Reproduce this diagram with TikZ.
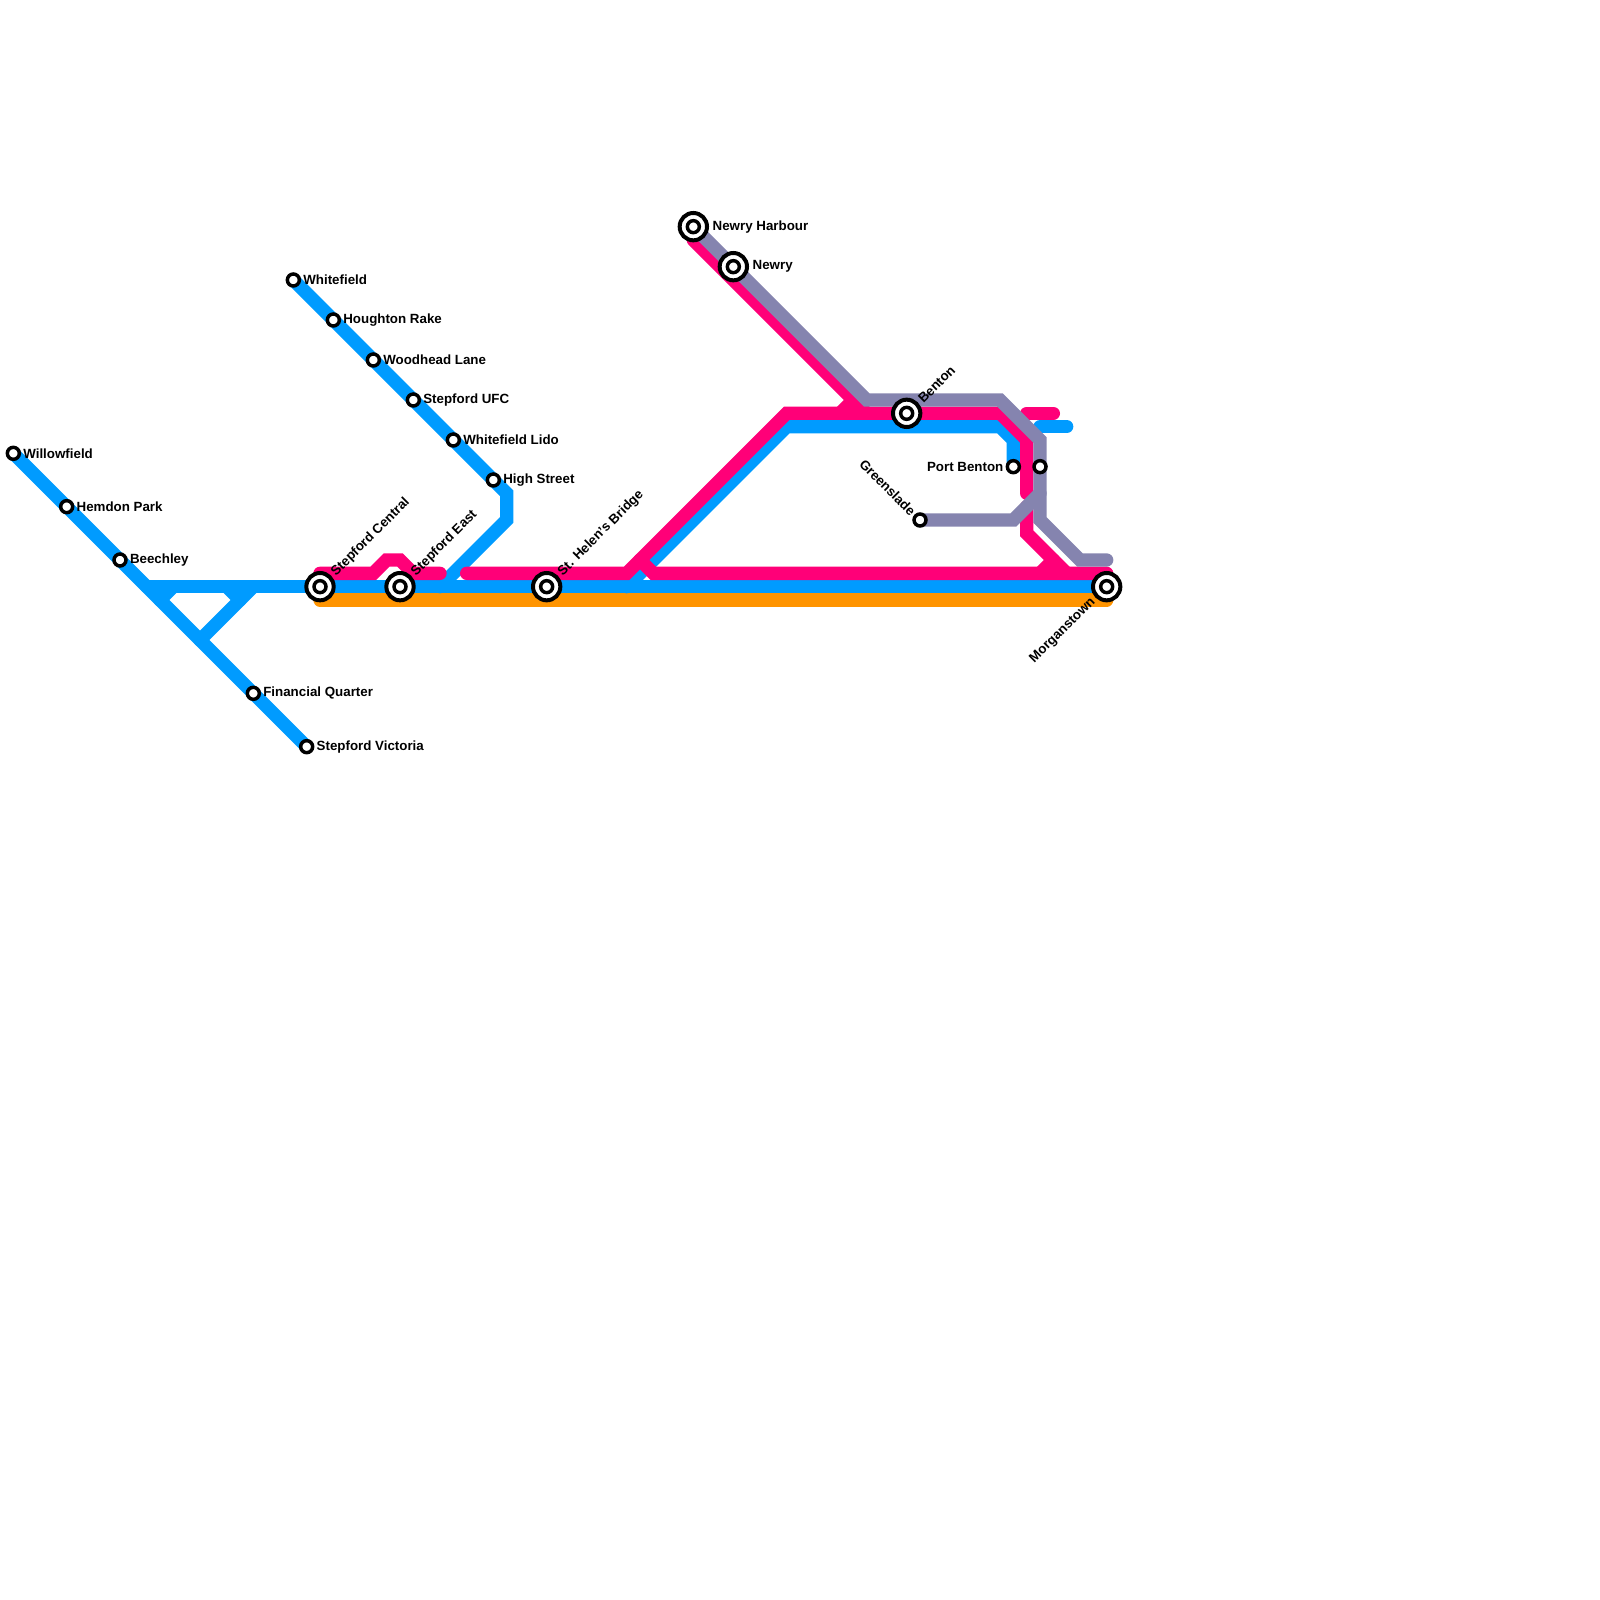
\documentclass[tikz,border=0pt]{standalone}
\usepackage{fontspec}
\setmainfont{Liberation Sans}
\usepackage{tikz}
\usetikzlibrary{positioning}
\usetikzlibrary{backgrounds}
\definecolor{lineblue}{HTML}{009BFF}
\definecolor{linepink}{HTML}{FF0078}
\definecolor{lineorange}{HTML}{FF9400}
\definecolor{linegray}{HTML}{8584AF}

\begin{document}
\begin{tikzpicture}[x=0.2cm,y=-0.2cm]
% Styles:
\tikzset{stn/.style={circle, draw=black, fill=white, line width=0.052cm, minimum size=0.18cm, inner sep=0pt, outer sep=0pt}}
\tikzset{hub/.style={circle, draw=black, fill=white, line width=0.06cm, minimum size=0.41cm, inner sep=0pt, outer sep=0pt}}
\tikzset{lbl/.style={font=\bfseries\fontsize{5.69pt}{7pt}\selectfont, inner sep=0pt, outer sep=0pt}}
\tikzset{rail/.style={line width=0.2cm, line cap=round, line join=miter}}
\tikzset{node distance = 0.06cm}
\useasboundingbox (0,0) rectangle (120,120);

% Small stations:
\node[stn] (wil) at (1,34) {};
\node[stn] (hem) at (5,38) {};
\node[stn] (bee) at (9,42) {};
\node[stn] (fin) at (19,52) {};
\node[stn] (vic) at (23,56) {};
\node[stn] (whi) at (22,21) {};
\node[stn] (hou) at (25,24) {};
\node[stn] (woo) at (28,27) {};
\node[stn] (ufc) at (31,30) {};
\node[stn] (lid) at (34,33) {};
\node[stn] (hig) at (37,36) {};
\node[stn] (por) at (76,35) {};
\node[stn] (unn) at (78,35) {};
\node[stn] (gre) at (69,39) {};

% Interchange stations:
\node[hub] (cen) at (24,44) {};
\node[hub] (eas) at (30,44) {};
\node[hub] (hel) at (41,44) {};
\node[hub] (har) at (52,17) {};
\node[hub] (new) at (55,20) {};
\node[hub] (ben) at (68,31) {};
\node[hub] (mor) at (83,44) {};
\node[stn] at (cen.center) {};
\node[stn] at (eas.center) {};
\node[stn] at (hel.center) {};
\node[stn] at (har.center) {};
\node[stn] at (new.center) {};
\node[stn] at (ben.center) {};
\node[stn] at (mor.center) {};

% Labels:
\node[lbl, right = of wil] {Willowfield};
\node[lbl, right = of hem] {Hemdon Park};
\node[lbl, right = of bee] {Beechley};
\node[lbl, right = of fin] {Financial Quarter};
\node[lbl, right = of vic] {Stepford Victoria};
\node[lbl, right = of whi] {Whitefield};
\node[lbl, right = of hou] {Houghton Rake};
\node[lbl, right = of woo] {Woodhead Lane};
\node[lbl, right = of ufc] {Stepford UFC};
\node[lbl, right = of lid] {Whitefield Lido};
\node[lbl, right = of hig] {High Street};
\node[lbl, right = 0.085cm of har] {Newry Harbour};
\node[lbl, right = 0.085cm of new] {Newry};
\node[lbl, left = of por] {Port Benton};
\node[lbl, rotate=45, anchor=west] at ([shift={(0.205cm,0.19cm)}]cen.center) {Stepford Central};
\node[lbl, rotate=45, anchor=west] at ([shift={(0.205cm,0.19cm)}]eas.center) {Stepford East};
\node[lbl, rotate=45, anchor=west] at ([shift={(0.205cm,0.19cm)}]hel.center) {St. Helen's Bridge};
\node[lbl, rotate=45, anchor=west] at ([shift={(0.205cm,0.19cm)}]ben.center) {Benton};
\node[lbl, rotate=45, anchor=east] at ([shift={(-0.2cm,-0.2cm)}]mor.center) {Morganstown};
\node[lbl, rotate=-45, anchor=east] at ([shift={(-0.1cm,0.1cm)}]gre.center) {Greenslade};

% Bends and junctions:
\coordinate (jtop) at (11,44);
\coordinate (jlow) at (15,48);
\coordinate (jmid) at (19,44);
\coordinate (jstuba) at (12,45);
\coordinate (jstubb) at (13,44);
\coordinate (jstubc) at (17,44);
\coordinate (jstubd) at (18,45);
\coordinate (bup) at (38,37);
\coordinate (bdn) at (38,39);
\coordinate (bjoin) at (33,44);
\coordinate (bfork) at (47,44);
\coordinate (bnw) at (59,32);
\coordinate (bne) at (75,32);
\coordinate (bpt) at (76,33);
\coordinate (bsa) at (78,32);
\coordinate (bsb) at (80,32);
\coordinate (pa) at (28,43);
\coordinate (pb) at (29,42);
\coordinate (pc) at (30,42);
\coordinate (pd) at (31,43);
\coordinate (pe) at (33,43);
\coordinate (pst) at (24,43);
\coordinate (pf) at (35,43);
\coordinate (pg) at (47,43);
\coordinate (pnw) at (59,31);
\coordinate (pne) at (75,31);
\coordinate (ph) at (77,33);
\coordinate (pi) at (77,37);
\coordinate (pj) at (77,38);
\coordinate (pk) at (77,40);
\coordinate (pl) at (80,43);
\coordinate (pm) at (48,42);
\coordinate (pn) at (49,43);
\coordinate (po) at (83,43);
\coordinate (pq) at (78,43);
\coordinate (pr) at (79,42);
\coordinate (ps) at (52,18);
\coordinate (pt) at (65,31);
\coordinate (pu) at (63,31);
\coordinate (pv) at (64,30);
\coordinate (pw) at (77,31);
\coordinate (px) at (79,31);
\coordinate (ga) at (65,30);
\coordinate (gb) at (75,30);
\coordinate (gc) at (78,33);
\coordinate (gd) at (78,39);
\coordinate (ge) at (81,42);
\coordinate (gf) at (83,42);
\coordinate (gg) at (76,39);
\coordinate (gh) at (78,37);
\coordinate (ora) at (24,45);
\coordinate (orb) at (83,45);

% Lines under the stations:
\begin{pgfonlayer}{background}
\draw[rail, lineorange] (ora) -- (orb);
\draw[rail, lineblue] (wil.center) -- (vic.center);
\draw[rail, lineblue] (jtop) -- (cen.center) -- (mor.center);
\draw[rail, lineblue] (jlow) -- (jmid);
\draw[rail, lineblue] (jstuba) -- (jstubb);
\draw[rail, lineblue] (jstubc) -- (jstubd);
\draw[rail, lineblue] (whi.center) -- (bup) -- (bdn) -- (bjoin);
\draw[rail, lineblue] (bfork) -- (bnw) -- (bne) -- (bpt) -- (por.center);
\draw[rail, lineblue] (bsa) -- (bsb);
\draw[rail, linepink] (pst) -- (pa) -- (pb) -- (pc) -- (pd) -- (pe);
\draw[rail, linepink] (pf) -- (pg) -- (pnw) -- (pne) -- (ph) -- (pi);
\draw[rail, linepink] (pj) -- (pk) -- (pl);
\draw[rail, linepink] (pm) -- (pn) -- (po);
\draw[rail, linepink] (pq) -- (pr);
\draw[rail, linepink] (ps) -- (pt);
\draw[rail, linepink] (pu) -- (pv);
\draw[rail, linepink] (pw) -- (px);
\draw[rail, linegray] (har.center) -- (ga) -- (gb) -- (gc) -- (gd) -- (ge) -- (gf);
\draw[rail, linegray] (gre.center) -- (gg) -- (gh);
\end{pgfonlayer}
\end{tikzpicture}
\end{document}
